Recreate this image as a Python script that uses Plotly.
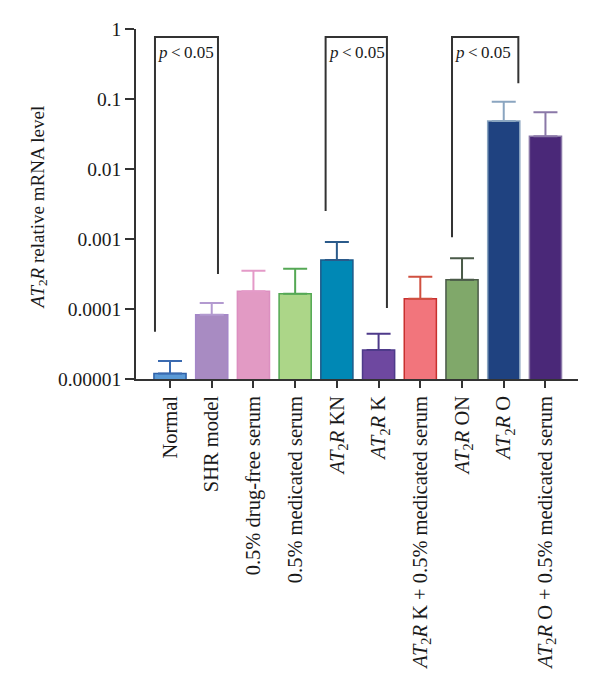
import plotly.graph_objects as go
import numpy as np

AT2R = "<i>AT</i><sub>2</sub><i>R</i>"
categories = ["Normal", "SHR model", "0.5% drug-free serum", "0.5% medicated serum",
              AT2R + " KN", AT2R + " K", AT2R + " K + 0.5% medicated serum",
              AT2R + " ON", AT2R + " O", AT2R + " O + 0.5% medicated serum"]
means = [1.2e-5, 8.3e-5, 1.8e-4, 1.65e-4, 5.0e-4, 2.6e-5, 1.4e-4, 2.62e-4, 0.0485, 0.0293]
upper = [1.81e-5, 1.22e-4, 3.52e-4, 3.77e-4, 9.06e-4, 4.44e-5, 2.89e-4, 5.3e-4, 0.0915, 0.0645]
fills = ["#5b9ad6", "#a88bc2", "#e29ac4", "#acd688", "#0088b5",
         "#6e48a0", "#f2757c", "#80a86a", "#1f4280", "#4a2878"]
edges = ["#2d60a8", "#a487c8", "#dc8fc0", "#52a852", "#1d5a8a",
         "#4e3a8a", "#c8302e", "#4a5a48", "#8aa5c0", "#8a78a8"]
err_colors = ["#3a6ab0", "#b39ad0", "#e49ac8", "#55a855", "#2a5a8a",
              "#4e3a8a", "#d05040", "#4a5a48", "#8aa5c0", "#8a78a8"]

ytick_vals = [1e-5, 1e-4, 1e-3, 1e-2, 1e-1, 1]
ytick_text = ["0.00001", "0.0001", "0.001", "0.01", "0.1", "1"]

# significance brackets: (x_left, x_right, y_left_bottom, y_right_bottom, y_top)
brackets = [(-0.36, 1.15, 4.74e-5, 3.16e-4, 0.77),
            (3.73, 5.20, 2.51e-3, 1.03e-4, 0.77),
            (6.76, 8.35, 1.06e-3, 0.168, 0.77)]
sig_label = "<i>p</i>\u2009<\u20090.05"

FONT = "Liberation Serif"
fig = go.Figure()
xs = list(range(len(categories)))
for i in xs:
    fig.add_trace(go.Bar(
        x=[i], y=[means[i]], width=0.77,
        marker=dict(color=fills[i], line=dict(color=edges[i], width=1.5)),
        error_y=dict(type="data", symmetric=False,
                     array=[upper[i] - means[i]], arrayminus=[0],
                     color=err_colors[i], thickness=2, width=12),
        showlegend=False))

for (xl, xr, yl, yr, yt) in brackets:
    fig.add_trace(go.Scatter(x=[xl, xl, xr, xr], y=[yl, yt, yt, yr], mode="lines",
                             line=dict(color="#333333", width=2), showlegend=False,
                             hoverinfo="skip"))
    fig.add_annotation(x=xl, y=np.log10(0.46), xref="x", yref="y", text=sig_label,
                       showarrow=False, xanchor="left", yanchor="middle", xshift=1,
                       font=dict(family=FONT, size=17, color="#1a1a1a"))

fig.update_layout(
    width=600, height=692,
    margin=dict(l=136, r=22, t=29, b=313),
    plot_bgcolor="white", paper_bgcolor="white",
    barmode="overlay",
    font=dict(family=FONT, size=19, color="#1a1a1a"),
    xaxis=dict(range=[-0.815, 9.78], tickvals=xs, ticktext=categories, tickangle=-90,
               showgrid=False, zeroline=False, showline=True, linecolor="#333333",
               linewidth=1.5, ticks="outside", ticklen=7, tickwidth=1.5,
               tickcolor="#333333", tickfont=dict(family=FONT, size=20.5, color="#1a1a1a")),
    yaxis=dict(type="log", range=[-5, 0], tickvals=ytick_vals, ticktext=ytick_text,
               showgrid=False, zeroline=False, showline=True, linecolor="#333333",
               linewidth=1.5, ticks="outside", ticklen=9, tickwidth=1.5,
               tickcolor="#333333", tickfont=dict(family=FONT, size=19.5, color="#1a1a1a")),
)
fig.add_annotation(x=(38 - 136) / 442, y=0.49, xref="paper", yref="paper",
                   text=AT2R + " relative mRNA level", textangle=-90, showarrow=False,
                   xanchor="center", yanchor="middle",
                   font=dict(family=FONT, size=19, color="#1a1a1a"))

fig.write_html("out.html")
